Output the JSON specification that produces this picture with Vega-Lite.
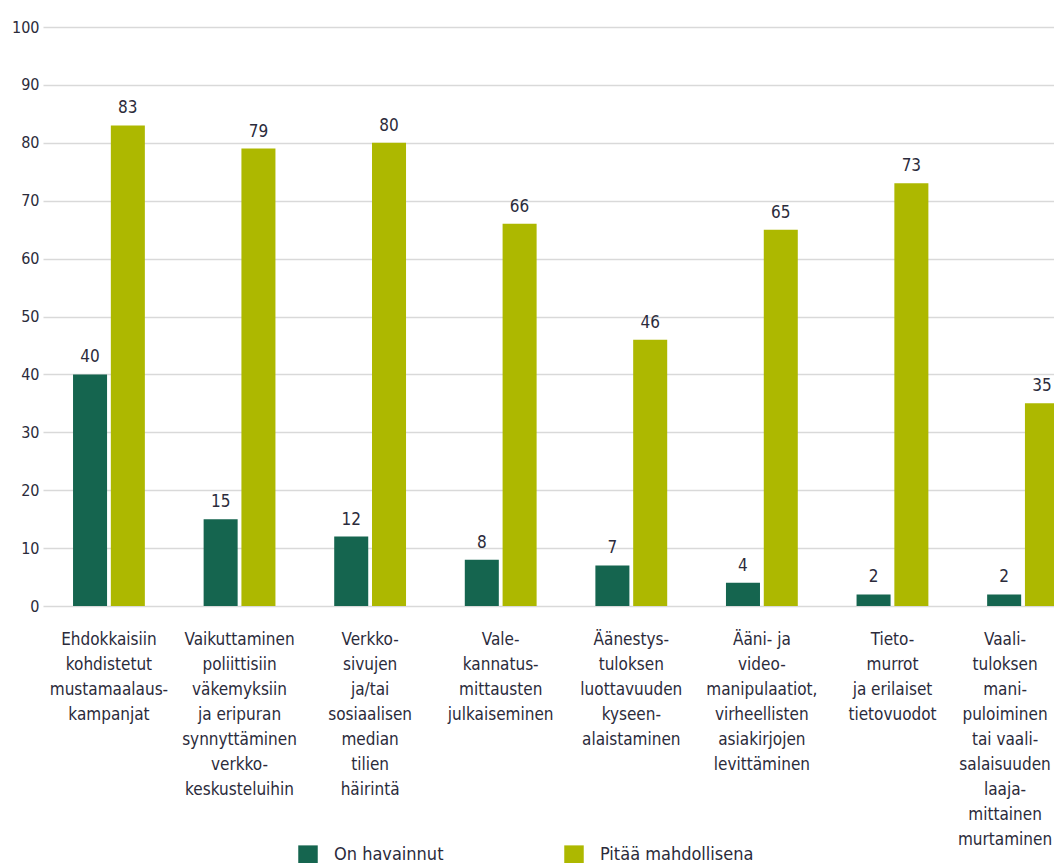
{
  "$schema": "https://vega.github.io/schema/vega-lite/v6.json",
  "width": 1011,
  "height": 579,
  "autosize": {"type": "none"},
  "padding": {"left": 43, "top": 27, "right": 0, "bottom": 257},
  "background": "white",
  "data": {
    "values": [
      {"tyyppi": "Ehdokkaisiin|kohdistetut|mustamaalaus-|kampanjat", "sarja": "On havainnut", "arvo": 40},
      {"tyyppi": "Ehdokkaisiin|kohdistetut|mustamaalaus-|kampanjat", "sarja": "Pitää mahdollisena", "arvo": 83},
      {"tyyppi": "Vaikuttaminen|poliittisiin|väkemyksiin|ja eripuran|synnyttäminen|verkko-|keskusteluihin", "sarja": "On havainnut", "arvo": 15},
      {"tyyppi": "Vaikuttaminen|poliittisiin|väkemyksiin|ja eripuran|synnyttäminen|verkko-|keskusteluihin", "sarja": "Pitää mahdollisena", "arvo": 79},
      {"tyyppi": "Verkko-|sivujen|ja/tai|sosiaalisen|median|tilien|häirintä", "sarja": "On havainnut", "arvo": 12},
      {"tyyppi": "Verkko-|sivujen|ja/tai|sosiaalisen|median|tilien|häirintä", "sarja": "Pitää mahdollisena", "arvo": 80},
      {"tyyppi": "Vale-|kannatus-|mittausten|julkaiseminen", "sarja": "On havainnut", "arvo": 8},
      {"tyyppi": "Vale-|kannatus-|mittausten|julkaiseminen", "sarja": "Pitää mahdollisena", "arvo": 66},
      {"tyyppi": "Äänestys-|tuloksen|luottavuuden|kyseen-|alaistaminen", "sarja": "On havainnut", "arvo": 7},
      {"tyyppi": "Äänestys-|tuloksen|luottavuuden|kyseen-|alaistaminen", "sarja": "Pitää mahdollisena", "arvo": 46},
      {"tyyppi": "Ääni- ja|video-|manipulaatiot,|virheellisten|asiakirjojen|levittäminen", "sarja": "On havainnut", "arvo": 4},
      {"tyyppi": "Ääni- ja|video-|manipulaatiot,|virheellisten|asiakirjojen|levittäminen", "sarja": "Pitää mahdollisena", "arvo": 65},
      {"tyyppi": "Tieto-|murrot|ja erilaiset|tietovuodot", "sarja": "On havainnut", "arvo": 2},
      {"tyyppi": "Tieto-|murrot|ja erilaiset|tietovuodot", "sarja": "Pitää mahdollisena", "arvo": 73},
      {"tyyppi": "Vaali-|tuloksen|mani-|puloiminen|tai vaali-|salaisuuden|laaja-|mittainen|murtaminen", "sarja": "On havainnut", "arvo": 2},
      {"tyyppi": "Vaali-|tuloksen|mani-|puloiminen|tai vaali-|salaisuuden|laaja-|mittainen|murtaminen", "sarja": "Pitää mahdollisena", "arvo": 35}
    ]
  },
  "encoding": {
    "x": {
      "field": "tyyppi",
      "type": "nominal",
      "sort": null,
      "title": null,
      "scale": {"paddingInner": 0.45, "paddingOuter": 0.23, "range": [0, 1046]},
      "axis": {
        "labelAngle": 0,
        "labelExpr": "split(datum.label, '|')",
        "labelLineHeight": 25,
        "labelPadding": 25,
        "labelLimit": 0,
        "labelBaseline": "top",
        "labelOffset": {"condition": {"test": "indexof(datum.value, 'Vaali-|') === 0", "value": -18}, "value": 0},
        "domain": false,
        "ticks": false
      }
    },
    "xOffset": {"field": "sarja", "type": "nominal", "scale": {"paddingInner": 0.1}},
    "y": {
      "field": "arvo",
      "type": "quantitative",
      "title": null,
      "scale": {"domain": [0, 100]},
      "axis": {
        "values": [0, 10, 20, 30, 40, 50, 60, 70, 80, 90, 100],
        "domain": false,
        "ticks": false,
        "labelPadding": 4,
        "gridColor": "#d9d9d9",
        "gridWidth": 1.5
      }
    }
  },
  "layer": [
    {
      "mark": {"type": "bar", "clip": true},
      "encoding": {
        "color": {
          "field": "sarja",
          "type": "nominal",
          "title": null,
          "scale": {"domain": ["On havainnut", "Pitää mahdollisena"], "range": ["#15654f", "#adb800"]},
          "legend": {
            "orient": "none",
            "direction": "horizontal",
            "legendX": 255,
            "legendY": 818,
            "symbolType": "square",
            "symbolSize": 380,
            "symbolStrokeWidth": 0,
            "labelOffset": 16,
            "columnPadding": 120
          }
        }
      }
    },
    {
      "mark": {"type": "text", "dy": -8, "baseline": "bottom", "clip": true, "fontSize": 17, "color": "#2b2b3b", "font": "DejaVu Sans Condensed"},
      "encoding": {
        "text": {"field": "arvo", "type": "quantitative"}
      }
    }
  ],
  "config": {
    "font": "DejaVu Sans Condensed",
    "view": {"stroke": null},
    "axis": {
      "labelFont": "DejaVu Sans Condensed",
      "labelFontSize": 17,
      "labelColor": "#2b2b3b"
    },
    "axisY": {"labelFontSize": 16},
    "legend": {
      "labelFont": "DejaVu Sans Condensed",
      "labelFontSize": 18,
      "labelColor": "#2b2b3b"
    }
  }
}
